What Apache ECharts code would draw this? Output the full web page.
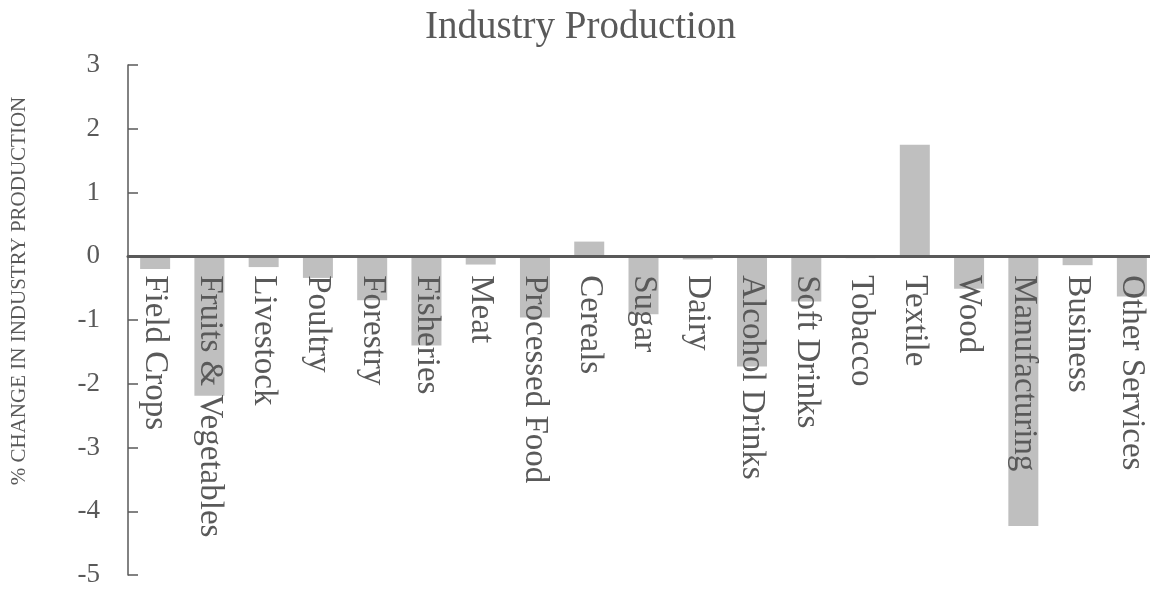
<!DOCTYPE html>
<html>
<head>
<meta charset="utf-8">
<script src="https://cdn.jsdelivr.net/npm/echarts@6/dist/echarts.min.js"></script>
<style>
  html, body { margin: 0; padding: 0; background: #fff; }
  #chart { width: 1150px; height: 592px; }
</style>
</head>
<body>
<div id="chart"></div>
<script>
const categories = ['Field Crops', 'Fruits & Vegetables', 'Livestock', 'Poultry', 'Forestry',
  'Fisheries', 'Meat', 'Processed Food', 'Cereals', 'Sugar', 'Dairy', 'Alcohol Drinks',
  'Soft Drinks', 'Tobacco', 'Textile', 'Wood', 'Manufacturing', 'Business', 'Other Services']
const changes = [-0.2, -2.19, -0.17, -0.34, -0.69, -1.4, -0.13, -0.96, 0.23, -0.91, -0.05,
  -1.73, -0.71, -0.03, 1.75, -0.51, -4.23, -0.14, -0.63]
const yTicks = { min: -5, max: 3, interval: 1 }

const textColor = '#595959'
const serif = '"Liberation Serif", "Times New Roman", serif'

// grid geometry, used to lift the category axis up to the zero line
const gridTop = 65
const gridBottom = 17
const plotHeight = 592 - gridTop - gridBottom
const zeroOffset = plotHeight * (0 - yTicks.min) / (yTicks.max - yTicks.min)

const chart = echarts.init(document.getElementById('chart'))
const option = {
  animation: false,
  title: {
    text: 'Industry Production',
    left: 420,
    top: 3,
    textStyle: {
      color: textColor,
      fontFamily: serif,
      fontWeight: 'normal',
      fontSize: 39,
    },
  },
  graphic: [
    {
      type: 'text',
      x: 19,
      y: 291,
      rotation: Math.PI / 2,
      style: {
        text: '% CHANGE IN INDUSTRY PRODUCTION',
        fill: textColor,
        font: '21px ' + serif,
        textAlign: 'center',
        textVerticalAlign: 'middle',
      },
    },
  ],
  grid: {
    left: 128,
    right: -9,
    top: gridTop,
    bottom: gridBottom,
    containLabel: false,
    outerBoundsMode: 'none',
  },
  xAxis: {
    type: 'category',
    data: categories,
    position: 'bottom',
    offset: -zeroOffset,
    z: 5,
    axisLine: {
      onZero: false,
      lineStyle: { color: textColor, width: 3 },
    },
    axisTick: { show: false },
    axisLabel: {
      rotate: -90,
      margin: 19,
      interval: 0,
      color: textColor,
      fontFamily: serif,
      fontSize: 33,
    },
  },
  yAxis: {
    type: 'value',
    min: yTicks.min,
    max: yTicks.max,
    interval: yTicks.interval,
    axisLine: {
      show: true,
      lineStyle: { color: textColor, width: 1.5 },
    },
    axisTick: {
      show: true,
      inside: true,
      length: 10,
      lineStyle: { color: textColor, width: 1.5 },
    },
    axisLabel: {
      margin: 28,
      color: textColor,
      fontFamily: serif,
      fontSize: 27,
    },
    splitLine: { show: false },
  },
  series: [
    {
      type: 'bar',
      data: changes,
      barWidth: 30,
      itemStyle: { color: '#bfbfbf' },
    },
  ],
}
chart.setOption(option)
</script>
</body>
</html>
